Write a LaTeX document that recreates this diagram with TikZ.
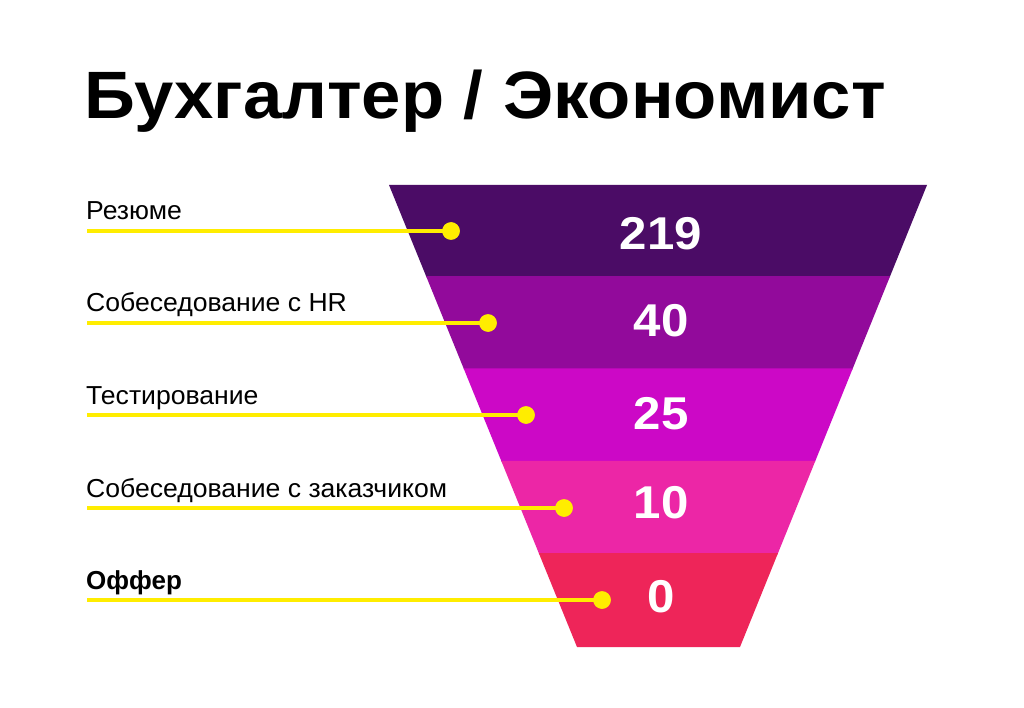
\documentclass[tikz,border=0pt]{standalone}
\usepackage{fontspec}
\usepackage{graphicx}
\setmainfont{Liberation Sans}
\usetikzlibrary{calc}
\definecolor{bandA}{HTML}{4B0C66}
\definecolor{bandB}{HTML}{920A9B}
\definecolor{bandC}{HTML}{CC08C6}
\definecolor{bandD}{HTML}{EC26A6}
\definecolor{bandE}{HTML}{EE2559}
\definecolor{dotyellow}{HTML}{FFED00}
\tikzset{
  lbl/.style={anchor=base west, inner sep=0pt, font=\fontsize{26}{30}\selectfont},
  num/.style={anchor=base, inner sep=0pt, text=white, font=\fontsize{46}{50}\selectfont\bfseries},
  dot/.style={circle, fill=dotyellow, minimum size=17.5pt, inner sep=0pt},
  leader/.style={draw=dotyellow, line width=3.2pt},
}
\newcommand{\wideN}[1]{\scalebox{1.07}[1]{#1}}
\newcommand{\wideL}[1]{\scalebox{1.022}[1]{#1}}
\begin{document}
\begin{tikzpicture}[x=1pt,y=-1pt]
\useasboundingbox (0,0) rectangle (1024,708);
\fill[white] (0,0) rectangle (1024,708);
% funnel corners
\coordinate (TL) at (389,185);
\coordinate (TR) at (927,185);
\coordinate (BL) at (577,647);
\coordinate (BR) at (740,647);
\foreach \i/\c in {0/bandA,1/bandB,2/bandC,3/bandD,4/bandE}{
  \pgfmathsetmacro{\ta}{max(0,\i/5-0.003)}
  \pgfmathsetmacro{\tb}{(\i+1)/5}
  \fill[\c] ($(TL)!\ta!(BL)$) -- ($(TR)!\ta!(BR)$) -- ($(TR)!\tb!(BR)$) -- ($(TL)!\tb!(BL)$) -- cycle;
}
% title
\node[anchor=base west, inner sep=0pt, font=\fontsize{67}{70}\selectfont\bfseries] (title) at (84,119) {\scalebox{1.055}[1]{Бухгалтер / Экономист}};
% labels
\node[lbl] (t1) at (86,220) {\wideL{Резюме}};
\node[lbl] (t2) at (86,312) {\wideL{Собеседование с HR}};
\node[lbl] (t3) at (86,404) {\wideL{Тестирование}};
\node[lbl] (t4) at (86,497) {\wideL{Собеседование с заказчиком}};
\node[lbl, font=\fontsize{26}{30}\selectfont\bfseries] (t5) at (86,589) {Оффер};
% dots and leaders
\node[dot] (d1) at (451,231) {};
\node[dot] (d2) at (488,323) {};
\node[dot] (d3) at (526,415) {};
\node[dot] (d4) at (564,508) {};
\node[dot] (d5) at (602,600) {};
\coordinate (s1) at (87,231);
\coordinate (s2) at (87,323);
\coordinate (s3) at (87,415);
\coordinate (s4) at (87,508);
\coordinate (s5) at (87,600);
\foreach \k in {1,...,5}{
  \draw[leader] (s\k) -- (d\k.center);
  \node[dot] at (d\k) {};
}
% numbers
\node[num] (n1) at (661,250) {\wideN{219}};
\node[num] (n2) at (661,336) {\wideN{40}};
\node[num] (n3) at (661,429) {\wideN{25}};
\node[num] (n4) at (661,518) {\wideN{10}};
\node[num] (n5) at (661,612) {\wideN{0}};
\end{tikzpicture}
\end{document}
